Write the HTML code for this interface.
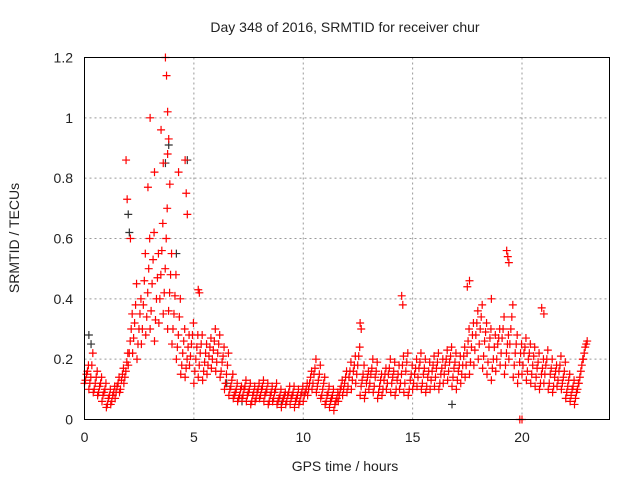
<!DOCTYPE html>
<html><head><meta charset="utf-8"><style>
body{margin:0;background:#fff;}
svg{display:block;font-family:"Liberation Sans",sans-serif;}
</style></head><body>
<svg id="c" width="640" height="480" viewBox="0 0 640 480">
<text x="345" y="32" text-anchor="middle" font-size="14" fill="#222">Day 348 of 2016, SRMTID for receiver chur</text>
<text x="345" y="471" text-anchor="middle" font-size="14" fill="#222">GPS time / hours</text>
<text transform="translate(19,238) rotate(-90)" text-anchor="middle" font-size="14" fill="#222">SRMTID / TECUs</text>
<g id="grid"></g>
<g id="ticks"></g>
<g id="marks"></g>
<rect x="84.5" y="57.5" width="525" height="362" fill="none" stroke="#000" stroke-width="1"/>
</svg>
<script>
const xTicks=[0,5,10,15,20];
const yTicks=[0,0.2,0.4,0.6,0.8,1,1.2];
const yTickLabels=["0","0.2","0.4","0.6","0.8","1","1.2"];
const tStep=0.2;
const redLow=[.12,.10,.09,.08,.06,.04,.05,.07,.09,.12,
.18,.22,.20,.25,.28,.30,.26,.32,.35,.30,
.25,.20,.15,.14,.18,.12,.14,.13,.15,.17,
.16,.14,.10,.08,.07,.06,.07,.06,.05,.06,
.07,.06,.05,.06,.05,.04,.05,.05,.04,.05,
.06,.08,.10,.09,.07,.05,.04,.03,.06,.08,
.09,.10,.12,.08,.07,.10,.09,.07,.08,.10,
.09,.08,.10,.09,.08,.10,.11,.10,.09,.10,
.11,.10,.12,.13,.11,.10,.12,.14,.15,.18,
.20,.17,.15,.13,.16,.18,.15,.20,.14,.12,
.15,.13,.12,.11,.10,.12,.10,.09,.11,.10,
.07,.06,.05,.12,.20];
const redA=[.13,.12,.10,.09,.08,.05,.06,.09,.10,.14,
.22,.27,.25,.30,.34,.36,.33,.40,.42,.36,
.30,.24,.18,.17,.21,.16,.18,.16,.18,.20,
.19,.16,.12,.10,.08,.07,.08,.08,.06,.07,
.08,.08,.06,.07,.06,.06,.06,.07,.06,.06,
.08,.10,.12,.11,.08,.06,.06,.05,.08,.10,
.11,.13,.15,.11,.09,.12,.11,.09,.10,.12,
.12,.10,.12,.12,.10,.12,.14,.12,.11,.13,
.14,.12,.15,.16,.14,.13,.15,.18,.19,.23,
.25,.21,.19,.17,.20,.22,.18,.25,.18,.15,
.18,.16,.15,.14,.12,.15,.12,.11,.13,.12,
.09,.08,.07,.14,.22];
const redMid=[.15,.14,.12,.11,.09,.07,.08,.11,.13,.16,
.26,.32,.30,.38,.42,.45,.40,.48,.50,.42,
.35,.28,.22,.20,.25,.20,.22,.19,.21,.23,
.22,.19,.15,.11,.09,.08,.10,.09,.08,.09,
.10,.09,.08,.09,.07,.07,.08,.08,.07,.08,
.09,.12,.15,.13,.10,.08,.07,.06,.10,.12,
.14,.16,.18,.13,.12,.15,.14,.11,.13,.15,
.14,.13,.15,.16,.13,.15,.17,.15,.14,.16,
.17,.15,.18,.19,.17,.16,.18,.22,.24,.28,
.30,.26,.24,.20,.25,.27,.22,.30,.22,.19,
.22,.20,.18,.17,.15,.18,.15,.14,.16,.14,
.11,.10,.09,.16,.24];
const redB=[.16,.18,.14,.12,.10,.08,.09,.12,.15,.19,
.30,.38,.35,.46,.50,.53,.47,.56,.60,.48,
.41,.34,.26,.24,.28,.24,.25,.22,.24,.26,
.25,.21,.18,.13,.10,.10,.11,.10,.09,.10,
.11,.10,.09,.10,.08,.08,.09,.09,.08,.09,
.10,.14,.17,.15,.12,.09,.08,.07,.11,.14,
.16,.18,.21,.15,.14,.17,.16,.13,.15,.17,
.16,.15,.18,.19,.15,.17,.19,.17,.16,.18,
.19,.17,.20,.21,.19,.18,.21,.26,.28,.32,
.34,.29,.27,.24,.27,.30,.25,.34,.25,.22,
.24,.22,.21,.19,.17,.20,.17,.16,.18,.16,
.13,.11,.10,.18,.25];
const redHigh=[.18,.22,.16,.14,.12,.10,.11,.14,.17,.22,
.35,.45,.40,.55,.60,.62,.55,.65,.70,.55,
.48,.40,.30,.28,.32,.28,.28,.25,.27,.30,
.28,.24,.22,.15,.12,.11,.13,.12,.11,.12,
.13,.12,.11,.12,.10,.09,.11,.11,.10,.11,
.12,.16,.20,.18,.14,.11,.10,.09,.13,.16,
.19,.21,.24,.18,.16,.20,.19,.15,.17,.20,
.19,.18,.21,.22,.18,.20,.22,.20,.19,.21,
.22,.20,.23,.24,.22,.21,.24,.30,.32,.36,
.38,.32,.30,.28,.30,.34,.28,.38,.28,.25,
.27,.25,.24,.22,.20,.23,.20,.18,.21,.19,
.15,.13,.12,.20,.26];
const spikeT=[1.9,1.95,2.1,2.9,3.0,3.2,3.5,3.6,3.7,3.75,3.8,3.85,3.8,3.9,4.3,4.6,4.7,4.65,5.2,5.25,12.6,12.65,14.5,14.55,17.5,17.6,18.6,19.3,19.35,19.4,20.9,21.0,19.9,20.0];
const spikeV=[.86,.73,.60,.77,1.0,.82,.96,.85,1.2,1.14,1.02,.93,.88,.78,.82,.86,.68,.75,.43,.42,.32,.30,.41,.38,.44,.46,.40,.56,.54,.52,.37,.35,0,0];
const blackT=[0.2,0.3,2.0,2.05,3.85,3.7,4.7,4.2,6.5,7.2,9.0,16.8];
const blackV=[.28,.25,.68,.62,.91,.85,.86,.55,.12,.06,.05,.05];

const NS="http://www.w3.org/2000/svg";
const X0=84.5,X1=609.5,Y0=419.5,Y1=57.5;
const xs=v=>X0+(v/24)*(X1-X0);
const ys=v=>Y0-(v/1.2)*(Y0-Y1);
const grid=document.getElementById('grid'),ticks=document.getElementById('ticks'),marks=document.getElementById('marks');
function mk(tag,attrs,parent){const e=document.createElementNS(NS,tag);for(const k in attrs)e.setAttribute(k,attrs[k]);parent.appendChild(e);return e;}
xTicks.forEach(v=>{
 const x=xs(v);
 if(v>0){const g=mk('line',{x1:x,x2:x,y1:Y1,y2:Y0,stroke:'#999','stroke-dasharray':'2,3'},grid);
 
 }
 const t=mk('text',{x:x,y:442,'text-anchor':'middle','font-size':14,fill:'#222'},ticks);t.textContent=v;
 
 
});
yTicks.forEach((v,i)=>{
 const y=ys(v);
 if(v>0&&v<1.2){const g=mk('line',{x1:X0,x2:X1,y1:y,y2:y,stroke:'#999','stroke-dasharray':'2,3'},grid);
 
 }
 const t=mk('text',{x:73,y:y+5,'text-anchor':'end','font-size':14,fill:'#222'},ticks);t.textContent=yTickLabels[i];
 
 
});
function cross(t,v,color){
 const x=xs(t),y=ys(v);
 const p=mk('path',{d:`M${x-4},${y}h8M${x},${y-4}v8`,stroke:color,'stroke-width':1.2,fill:'none'},marks);
 
 
}
blackT.forEach((t,i)=>cross(t,blackV[i],'#333'));
[redLow,redA,redMid,redB,redHigh].forEach((arr,k)=>arr.forEach((v,i)=>cross(i*tStep+k*0.045,v,'#f00')));
spikeT.forEach((t,i)=>cross(t,spikeV[i],'#f00'));
</script>
</body></html>
